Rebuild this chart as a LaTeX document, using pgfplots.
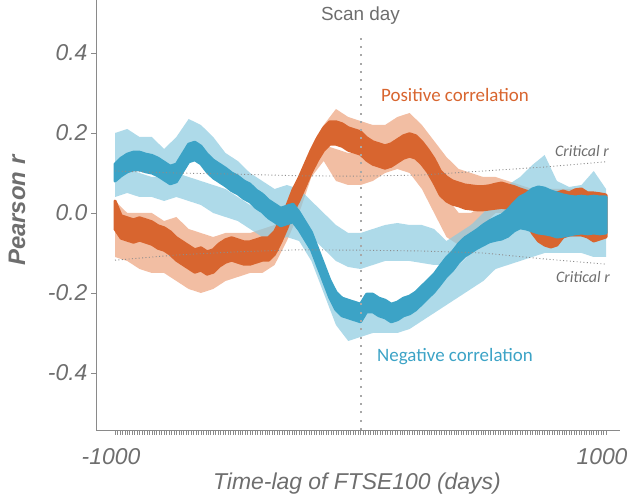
\documentclass[border=0pt]{standalone}
\usepackage{pgfplots}
\pgfplotsset{compat=1.18}
\usepackage{pgfplotstable}
\usepgfplotslibrary{fillbetween}
\usepackage{fontspec}
\setmainfont{Liberation Sans}
\newfontfamily\calfont{Carlito}
\definecolor{txtgray}{HTML}{6E6E6E}
\definecolor{axgray}{HTML}{8A8A8A}
\definecolor{org}{HTML}{D8652F}
\definecolor{orgl}{HTML}{EDA27C}
\definecolor{blu}{HTML}{3CA3C6}
\definecolor{blul}{HTML}{8CCAE0}
\definecolor{dotgray}{HTML}{A8A8A8}
\definecolor{critgray}{HTML}{8C8C8C}

% main (thick) bands: x lo hi
\pgfplotstableread{
x lo hi
-1000 0.080 0.122
-975 0.093 0.137
-950 0.103 0.147
-925 0.108 0.152
-900 0.108 0.152
-875 0.103 0.147
-850 0.100 0.144
-825 0.093 0.137
-800 0.083 0.127
-775 0.073 0.117
-750 0.078 0.122
-725 0.103 0.147
-700 0.128 0.172
-675 0.133 0.177
-650 0.123 0.167
-625 0.103 0.147
-600 0.088 0.132
-575 0.078 0.122
-550 0.068 0.112
-525 0.056 0.100
-500 0.048 0.092
-475 0.036 0.080
-450 0.028 0.072
-425 0.013 0.057
-400 0.003 0.047
-375 -0.012 0.032
-350 -0.022 0.022
-325 -0.032 0.012
-300 -0.027 0.017
-275 -0.022 0.022
-250 -0.042 0.002
-225 -0.067 -0.023
-200 -0.092 -0.048
-175 -0.132 -0.088
-150 -0.172 -0.128
-125 -0.212 -0.168
-100 -0.242 -0.198
-75 -0.257 -0.213
-50 -0.262 -0.218
-25 -0.267 -0.223
0 -0.272 -0.228
25 -0.247 -0.203
50 -0.247 -0.203
75 -0.257 -0.213
100 -0.262 -0.218
125 -0.272 -0.228
150 -0.267 -0.223
175 -0.257 -0.213
200 -0.252 -0.208
225 -0.242 -0.198
250 -0.227 -0.183
275 -0.212 -0.168
300 -0.197 -0.153
325 -0.178 -0.132
350 -0.158 -0.112
375 -0.143 -0.097
400 -0.123 -0.077
425 -0.108 -0.062
450 -0.098 -0.052
475 -0.088 -0.042
500 -0.080 -0.030
525 -0.072 -0.020
550 -0.068 -0.012
575 -0.065 -0.005
600 -0.058 0.008
625 -0.045 0.025
650 -0.037 0.040
675 -0.040 0.048
700 -0.045 0.060
725 -0.050 0.065
750 -0.052 0.062
775 -0.055 0.055
800 -0.060 0.050
825 -0.058 0.045
850 -0.055 0.042
875 -0.052 0.040
900 -0.050 0.042
925 -0.052 0.040
950 -0.050 0.042
975 -0.052 0.040
1000 -0.050 0.040
}\bluemain

\pgfplotstableread{
x lo hi
-1000 -0.040 0.030
-975 -0.063 -0.007
-950 -0.068 -0.012
-925 -0.073 -0.017
-900 -0.068 -0.012
-875 -0.073 -0.017
-850 -0.078 -0.022
-825 -0.088 -0.032
-800 -0.093 -0.037
-775 -0.103 -0.047
-750 -0.118 -0.062
-725 -0.128 -0.072
-700 -0.138 -0.082
-675 -0.148 -0.092
-650 -0.143 -0.087
-625 -0.153 -0.097
-600 -0.148 -0.092
-575 -0.133 -0.077
-550 -0.123 -0.067
-525 -0.118 -0.062
-500 -0.123 -0.067
-475 -0.128 -0.072
-450 -0.128 -0.072
-425 -0.123 -0.067
-400 -0.118 -0.062
-375 -0.118 -0.062
-350 -0.103 -0.047
-325 -0.073 -0.017
-300 -0.038 0.018
-275 0.002 0.058
-250 0.032 0.088
-225 0.067 0.123
-200 0.102 0.158
-175 0.132 0.188
-150 0.157 0.213
-125 0.172 0.228
-100 0.172 0.228
-75 0.167 0.223
-50 0.157 0.213
-25 0.152 0.208
0 0.147 0.203
25 0.132 0.188
50 0.122 0.178
75 0.117 0.173
100 0.112 0.168
125 0.117 0.173
150 0.127 0.183
175 0.137 0.193
200 0.142 0.198
225 0.137 0.193
250 0.122 0.178
275 0.102 0.158
300 0.075 0.135
325 0.045 0.105
350 0.030 0.090
375 0.022 0.080
400 0.018 0.075
425 0.012 0.070
450 0.010 0.068
475 0.008 0.066
500 0.008 0.066
525 0.010 0.068
550 0.012 0.072
575 0.014 0.075
600 0.012 0.070
625 0.010 0.066
650 0.005 0.060
675 -0.020 0.055
700 -0.050 0.050
725 -0.070 0.050
750 -0.080 0.050
775 -0.085 0.050
800 -0.080 0.050
825 -0.060 0.055
850 -0.055 0.050
875 -0.055 0.058
900 -0.055 0.060
925 -0.060 0.050
950 -0.070 0.050
975 -0.065 0.048
1000 -0.060 0.045
}\orgmain

% light bands: x lo hi
\pgfplotstableread{
x lo hi
-1000 0.10 0.20
-950 0.12 0.21
-900 0.12 0.19
-850 0.11 0.19
-800 0.10 0.16
-750 0.11 0.19
-700 0.16 0.235
-650 0.15 0.22
-600 0.11 0.19
-550 0.09 0.15
-500 0.07 0.13
-450 0.05 0.10
-400 0.02 0.08
-350 0.00 0.06
-300 -0.01 0.07
-250 -0.02 0.06
-200 -0.06 0.03
-150 -0.09 0.00
-100 -0.12 -0.03
-50 -0.135 -0.05
0 -0.14 -0.05
50 -0.13 -0.04
100 -0.12 -0.03
150 -0.12 -0.025
200 -0.12 -0.03
250 -0.125 -0.03
300 -0.13 -0.04
350 -0.13 -0.07
400 -0.11 -0.05
450 -0.09 -0.03
500 -0.06 0.00
550 -0.04 0.04
600 -0.02 0.07
650 0.00 0.09
700 0.02 0.12
750 0.03 0.145
800 0.00 0.08
850 0.00 0.065
900 0.00 0.07
950 0.00 0.105
1000 -0.02 0.06
}\blueup

\pgfplotstableread{
x lo hi
-1000 0.04 0.10
-950 0.05 0.11
-900 0.04 0.10
-850 0.04 0.09
-800 0.03 0.09
-750 0.04 0.10
-700 0.03 0.09
-650 0.02 0.08
-600 0.00 0.07
-550 -0.01 0.06
-500 -0.02 0.04
-450 -0.04 0.02
-400 -0.06 0.00
-350 -0.07 -0.01
-300 -0.06 0.00
-250 -0.07 -0.02
-200 -0.12 -0.06
-150 -0.20 -0.13
-100 -0.28 -0.20
-50 -0.32 -0.24
0 -0.31 -0.25
50 -0.30 -0.24
100 -0.30 -0.24
150 -0.30 -0.24
200 -0.29 -0.23
250 -0.27 -0.20
300 -0.25 -0.18
350 -0.23 -0.16
400 -0.21 -0.13
450 -0.19 -0.10
500 -0.17 -0.08
550 -0.14 -0.06
600 -0.13 -0.05
650 -0.12 -0.04
700 -0.11 -0.03
750 -0.10 -0.03
800 -0.10 -0.03
850 -0.10 -0.03
900 -0.10 -0.03
950 -0.11 -0.03
1000 -0.11 -0.04
}\bluelow

\pgfplotstableread{
x lo hi
-1000 -0.02 0.03
-950 -0.04 0.00
-900 -0.04 0.00
-850 -0.05 0.00
-800 -0.06 -0.02
-750 -0.08 -0.01
-700 -0.09 -0.04
-650 -0.10 -0.05
-600 -0.10 -0.06
-550 -0.09 -0.05
-500 -0.09 -0.05
-450 -0.09 -0.05
-400 -0.08 -0.04
-350 -0.06 -0.03
-300 -0.01 0.02
-250 0.04 0.08
-200 0.12 0.16
-150 0.18 0.22
-100 0.20 0.26
-50 0.19 0.24
0 0.18 0.23
50 0.16 0.22
100 0.16 0.22
150 0.17 0.24
200 0.18 0.25
250 0.16 0.22
300 0.12 0.18
350 0.09 0.14
400 0.07 0.11
450 0.06 0.10
500 0.05 0.09
550 0.05 0.09
600 0.05 0.08
650 0.03 0.07
700 0.02 0.06
750 0.00 0.06
800 0.00 0.06
850 0.00 0.06
900 0.00 0.06
950 0.00 0.05
1000 0.00 0.05
}\orgup

\pgfplotstableread{
x lo hi
-1000 -0.11 -0.04
-950 -0.12 -0.05
-900 -0.14 -0.06
-850 -0.15 -0.08
-800 -0.15 -0.09
-750 -0.17 -0.10
-700 -0.19 -0.12
-650 -0.20 -0.13
-600 -0.19 -0.12
-550 -0.17 -0.11
-500 -0.16 -0.10
-450 -0.15 -0.10
-400 -0.15 -0.10
-350 -0.13 -0.09
-300 -0.07 -0.03
-250 0.00 0.04
-200 0.09 0.12
-150 0.13 0.17
-100 0.08 0.16
-50 0.07 0.15
0 0.07 0.15
50 0.08 0.14
100 0.10 0.14
150 0.11 0.15
200 0.10 0.15
250 0.06 0.12
300 0.00 0.08
350 -0.06 0.04
400 -0.08 0.00
450 -0.07 0.00
500 -0.03 0.02
550 0.00 0.03
600 0.00 0.04
650 -0.02 0.02
700 -0.03 0.01
750 -0.06 0.00
800 -0.06 0.00
850 -0.06 0.00
900 -0.06 0.00
950 -0.06 0.00
1000 -0.06 0.00
}\orglow

\pgfplotstableread{
x up low
-1000 0.105 -0.118
-750 0.100 -0.105
-500 0.097 -0.097
-250 0.093 -0.092
0 0.092 -0.093
250 0.095 -0.095
500 0.105 -0.100
750 0.115 -0.115
1000 0.128 -0.128
}\crit

\begin{document}
\begin{tikzpicture}
\begin{axis}[
  at={(96bp,73bp)}, anchor=south west, scale only axis,
  width=524bp, height=430bp,
  xmin=-1077.4, xmax=1057, ymin=-0.5425, ymax=0.5325,
  axis x line=bottom, axis y line=left,
  axis line style={-, axgray, line width=0.8bp},
  xtick={-1000,1000}, xticklabels={-1000,1000},
  minor xtick={-990,-980,...,990},
  ytick={-0.4,-0.2,0,0.2,0.4}, yticklabels={-0.4,-0.2,0.0,0.2,0.4},
  tick align=outside, major tick length=5bp, minor tick length=5bp,
  every tick/.style={axgray, line width=0.5bp},
  ticklabel style={font=\fontsize{23}{27}\selectfont\itshape, text=txtgray},
  xticklabel style={yshift=-10bp, xshift=-4bp},
  xlabel={Time-lag of FTSE100 (days)},
  xlabel style={at={(axis description cs:0.498,-0.1256)}, anchor=center,
    font=\fontsize{23}{27}\selectfont\itshape, text=txtgray},
  ylabel={Pearson r},
  ylabel style={at={(axis description cs:-0.1507,0.51)}, anchor=center,
    font=\fontsize{24}{28}\selectfont\bfseries\itshape, text=txtgray},
]
% critical r
\addplot[critgray, line width=0.9bp, dash pattern=on 1bp off 2.4bp] table[x=x,y=up]{\crit};
\addplot[critgray, line width=0.9bp, dash pattern=on 1bp off 2.4bp] table[x=x,y=low]{\crit};
% light bands
\addplot[draw=none, name path=oua] table[x=x,y=lo]{\orgup};
\addplot[draw=none, name path=oub] table[x=x,y=hi]{\orgup};
\addplot[fill=orgl, fill opacity=0.7] fill between[of=oua and oub];
\addplot[draw=none, name path=ola] table[x=x,y=lo]{\orglow};
\addplot[draw=none, name path=olb] table[x=x,y=hi]{\orglow};
\addplot[fill=orgl, fill opacity=0.7] fill between[of=ola and olb];
\addplot[draw=none, name path=bua] table[x=x,y=lo]{\blueup};
\addplot[draw=none, name path=bub] table[x=x,y=hi]{\blueup};
\addplot[fill=blul, fill opacity=0.7] fill between[of=bua and bub];
\addplot[draw=none, name path=bla] table[x=x,y=lo]{\bluelow};
\addplot[draw=none, name path=blb] table[x=x,y=hi]{\bluelow};
\addplot[fill=blul, fill opacity=0.7] fill between[of=bla and blb];
% main bands
\addplot[draw=none, name path=oma] table[x=x,y=lo]{\orgmain};
\addplot[draw=none, name path=omb] table[x=x,y=hi]{\orgmain};
\addplot[fill=org, draw=org, line width=3bp, line join=round] fill between[of=oma and omb];
\addplot[draw=none, name path=bma] table[x=x,y=lo]{\bluemain};
\addplot[draw=none, name path=bmb] table[x=x,y=hi]{\bluemain};
\addplot[fill=blu, draw=blu, line width=3bp, line join=round] fill between[of=bma and bmb];
% scan day
\addplot[dotgray, line width=2bp, dash pattern=on 2bp off 6.3bp] coordinates {(0,-0.5425) (0,0.445)};
\node[font=\fontsize{19}{22}\selectfont, text=txtgray] at (axis cs:0,0.4925) {Scan day};
\node[font=\calfont\fontsize{19}{22}\selectfont, text=org] at (axis cs:385,0.295) {Positive correlation};
\node[font=\calfont\fontsize{19}{22}\selectfont, text=blu] at (axis cs:385,-0.36) {Negative correlation};
\node[font=\calfont\fontsize{16}{19}\selectfont\itshape, text=txtgray] at (axis cs:902,0.155) {Critical r};
\node[font=\calfont\fontsize{16}{19}\selectfont\itshape, text=txtgray] at (axis cs:906,-0.16) {Critical r};
\end{axis}
\pgfresetboundingbox
\path[use as bounding box] (0,0) rectangle (629bp,503bp);
\end{tikzpicture}
\end{document}
